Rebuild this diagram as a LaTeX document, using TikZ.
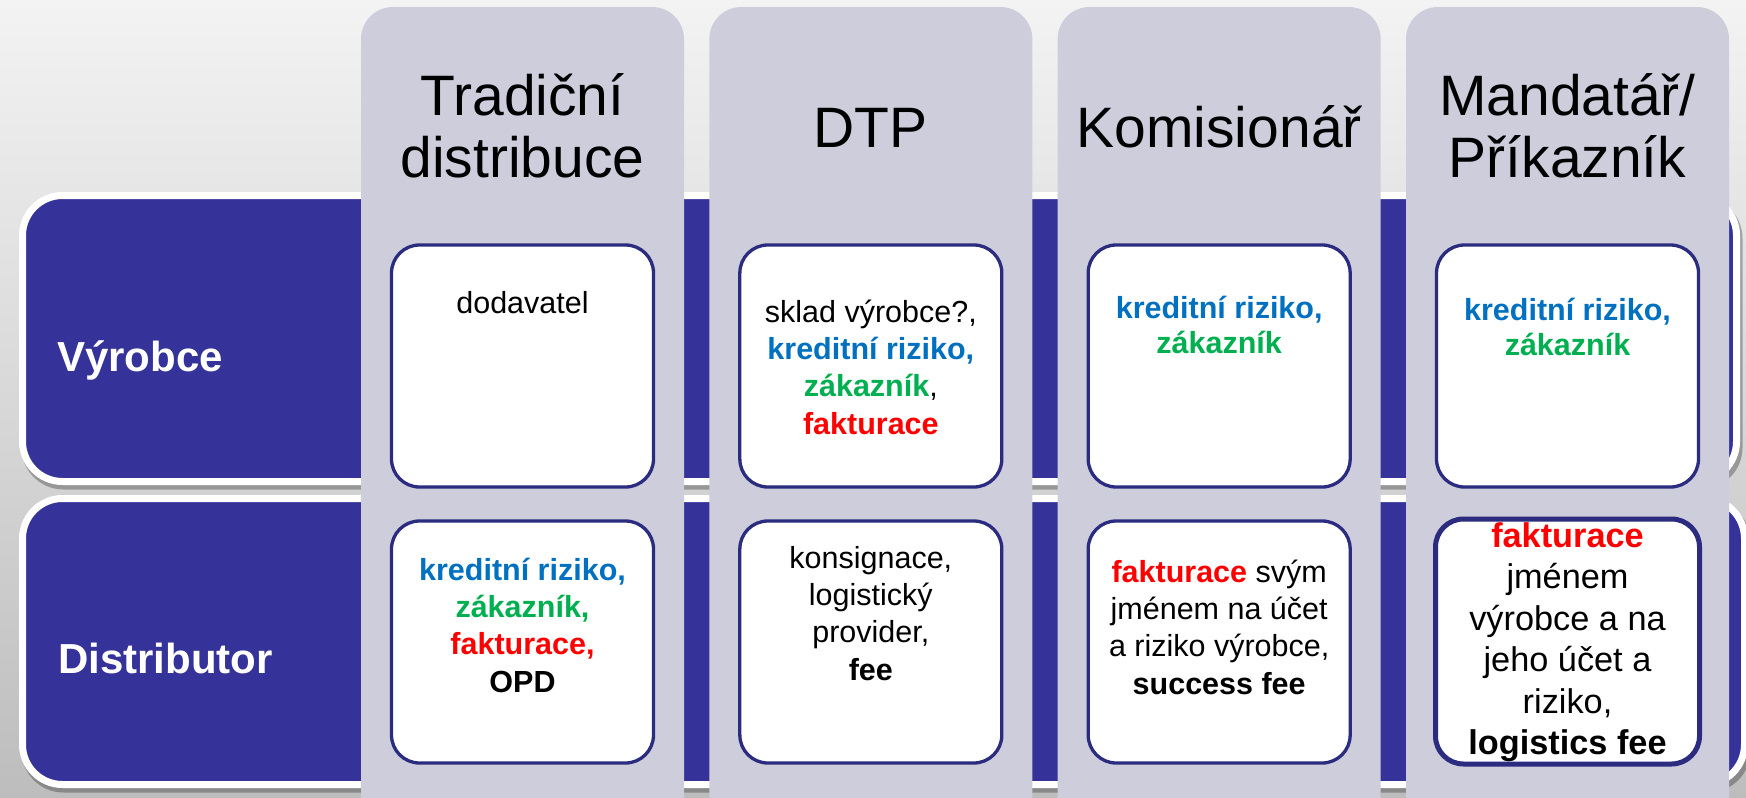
\documentclass[tikz,border=0pt]{standalone}
\usepackage{fontspec}
\setmainfont{Liberation Sans}
\definecolor{bandblue}{HTML}{353399}
\definecolor{colgray}{HTML}{CDCDDB}
\definecolor{navy}{HTML}{2B2B80}
\definecolor{tblue}{HTML}{0070C0}
\definecolor{tgreen}{HTML}{00B050}
\definecolor{tred}{HTML}{FF0000}
\definecolor{bgtop}{HTML}{F3F3F3}
\definecolor{bgbot}{HTML}{BDBDBD}
\begin{document}
\begin{tikzpicture}[x=1pt,y=-1pt,
  band/.style={draw=white, line width=7pt, fill=bandblue, rounded corners=40pt, inner sep=0pt},
  bandshadow/.style={fill=black, opacity=0.28, rounded corners=42pt, inner sep=0pt},
  colbox/.style={fill=colgray, rounded corners=32pt, minimum width=323pt, minimum height=830pt, inner sep=0pt},
  cell/.style={draw=navy, line width=3.3pt, fill=white, rounded corners=28pt, minimum width=262pt, minimum height=242pt, inner sep=0pt},
  celltext/.style={anchor=base, align=center, inner sep=0pt, font=\fontsize{30.5}{37.3}\selectfont},
  title/.style={anchor=base, align=center, inner sep=0pt, font=\fontsize{57}{62}\selectfont},
  rowlabel/.style={anchor=base west, inner sep=0pt, text=white, font=\bfseries\fontsize{42}{50}\selectfont}]
\useasboundingbox (0,0) rectangle (1746,798);
\clip (0,0) rectangle (1746,798);
\shade[top color=bgtop, bottom color=bgbot] (0,0) rectangle (1746,798);

% row bands
\node[bandshadow, minimum width=1721pt, minimum height=293pt] (sh1) at (882,343) {};
\node[band, minimum width=1714pt, minimum height=286pt] (r1) at (879.5,338.5) {};
\node[bandshadow, minimum width=1729pt, minimum height=293pt] (sh2) at (886,646) {};
\node[band, minimum width=1722pt, minimum height=286pt] (r2) at (883.5,641.5) {};
\node[rowlabel] (l1) at (57,371) {Výrobce};
\node[rowlabel] (l2) at (58,673) {Distributor};

% columns
\node[colbox] (c1) at (522.5,422) {};
\node[colbox] (c2) at (870.83,422) {};
\node[colbox] (c3) at (1219.17,422) {};
\node[colbox] (c4) at (1567.5,422) {};

% titles (anchor base = baseline of last line)
\node[title] (t1) at (522.5,177) {Tradiční\\distribuce};
\node[title] (t2) at (870.83,147) {DTP};
\node[title] (t3) at (1219.17,147) {Komisionář};
\node[title] (t4) at (1567.5,177) {Mandatář/\\Příkazník};

% cells row 1
\node[cell] (b11) at (522.5,366) {};
\node[cell] (b21) at (870.83,366) {};
\node[cell] (b31) at (1219.17,366) {};
\node[cell] (b41) at (1567.5,366) {};
% cells row 2
\node[cell] (b12) at (522.5,642) {};
\node[cell] (b22) at (870.83,642) {};
\node[cell] (b32) at (1219.17,642) {};
\node[cell, line width=5pt, minimum width=264pt, minimum height=245pt] (b42) at (1567.5,641.5) {};

% texts row 1
\node[celltext] (x11) at (522.5,313) {dodavatel};
\node[celltext] (x21) at (870.83,434) {sklad výrobce?,\\\textcolor{tblue}{\bfseries kreditní riziko,}\\\textcolor{tgreen}{\bfseries zákazník},\\\textcolor{tred}{\bfseries fakturace}};
\node[celltext, font=\bfseries\fontsize{30.5}{35}\selectfont] (x31) at (1219.17,353) {\textcolor{tblue}{kreditní riziko,}\\\textcolor{tgreen}{zákazník}};
\node[celltext, font=\bfseries\fontsize{30.5}{35}\selectfont] (x41) at (1567.5,355) {\textcolor{tblue}{kreditní riziko,}\\\textcolor{tgreen}{zákazník}};

% texts row 2
\node[celltext, font=\bfseries\fontsize{30.5}{37.3}\selectfont] (x12) at (522.5,692) {\textcolor{tblue}{kreditní riziko,}\\\textcolor{tgreen}{zákazník,}\\\textcolor{tred}{fakturace,}\\OPD};
\node[celltext] (x22) at (870.83,680) {konsignace,\\logistický\\provider,\\\textbf{fee}};
\node[celltext] (x32) at (1219.17,694) {\textcolor{tred}{\bfseries fakturace} svým\\jménem na účet\\a riziko výrobce,\\\textbf{success fee}};
\node[celltext, font=\fontsize{34.3}{41.5}\selectfont] (x42) at (1567.5,754.5) {\textcolor{tred}{\bfseries fakturace}\\jménem\\výrobce a na\\jeho účet a\\riziko,\\\textbf{logistics fee}};
\end{tikzpicture}
\end{document}
